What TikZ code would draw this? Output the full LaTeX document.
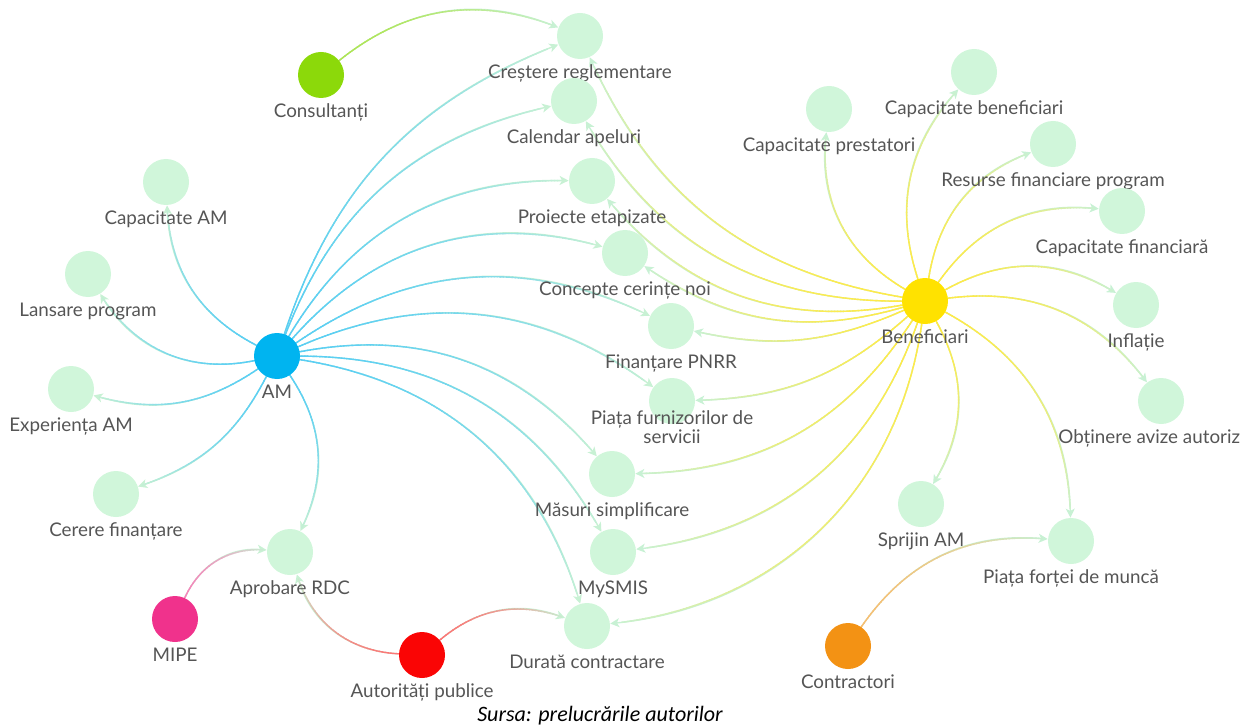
\documentclass[tikz,border=0pt]{standalone}
\usepackage{fontspec}
\setmainfont{Lato}
\newfontfamily\notefont{Carlito}
\usetikzlibrary{positioning, arrows.meta, decorations.markings, backgrounds}

\definecolor{topicfill}{RGB}{208,246,218}
\definecolor{linkend}{RGB}{200,241,212}
\definecolor{labelgray}{RGB}{85,85,85}
\definecolor{amblue}{RGB}{0,180,240}
\definecolor{benyellow}{RGB}{255,226,0}
\definecolor{consgreen}{RGB}{140,217,10}
\definecolor{mipepink}{RGB}{240,50,140}
\definecolor{autred}{RGB}{250,5,5}
\definecolor{ctrorange}{RGB}{243,146,20}
\colorlet{amline}{amblue!65!white}
\colorlet{benline}{benyellow!72!white}
\colorlet{consline}{consgreen!70!white}
\colorlet{mipeline}{mipepink!60!white}
\colorlet{autline}{autred!55!white}
\colorlet{ctrline}{ctrorange!60!white}

\tikzset{
every label/.style = {font = \fontsize{9.4}{9.6}\selectfont, text = labelgray,
   inner sep = 0pt, text height = 6.5pt, text depth = 2pt, align = center,
   yshift = -3pt},
topic/.style = {circle, fill = topicfill, minimum size = 23pt, inner sep = 0pt},
actor/.style = {topic, fill = #1},
link/.style = {draw = linkend, line width = .7pt,
   -{Stealth[length = 4.5pt, width = 4.5pt, inset = 1.2pt]},
   postaction = {decorate, decoration = {markings,
      mark = between positions 0 and .97 step 1.5pt with {
         \pgfmathsetmacro\linkmix{max(0, min(100, 100*(1 - (\pgfkeysvalueof{/pgf/decoration/mark info/distance from start}/\pgfdecoratedpathlength)^1.6)))}
         \draw[arrows = -, line width = .7pt, color = #1!\linkmix!linkend] (-1pt,0) -- (1pt,0);}}}}
}

\begin{document}
\begin{tikzpicture}[x = 0.5pt, y = -0.5pt]
\useasboundingbox (0,0) rectangle (1241,727);

%% Topics
\node [topic, label = below:Creștere reglementare] (crest) at (580,36) {};
\node [topic, label = below:Calendar apeluri] (cal) at (574,101) {};
\node [topic, label = below:Proiecte etapizate] (proj) at (592,181) {};
\node [topic, label = below:Concepte cerințe noi] (conc) at (625,253) {};
\node [topic, label = below:Finanțare PNRR] (pnrr) at (671,326) {};
\node [topic, label = {below:Piața furnizorilor de\\servicii}] (piaf) at (672,401) {};
\node [topic, label = below:Măsuri simplificare] (masuri) at (612,474) {};
\node [topic, label = below:MySMIS] (mysmis) at (613,552) {};
\node [topic, label = below:Durată contractare] (durata) at (587,626) {};
\node [topic, label = below:Capacitate AM] (capam) at (166,182) {};
\node [topic, label = below:Lansare program] (lans) at (88,274) {};
\node [topic, label = below:Experiența AM] (expam) at (71,389) {};
\node [topic, label = below:Cerere finanțare] (cerf) at (116,494) {};
\node [topic, label = below:Aprobare RDC] (aprdc) at (290,552) {};
\node [topic, label = below:Capacitate prestatori] (capp) at (829,109) {};
\node [topic, label = below:Capacitate beneficiari] (capb) at (974,72) {};
\node [topic, label = below:Resurse financiare program] (resf) at (1053,144) {};
\node [topic, label = below:Capacitate financiară] (capf) at (1122,211) {};
\node [topic, label = below:Inflație] (infl) at (1136,305) {};
\node [topic, label = {[anchor = north west, xshift = -51.5pt]below:Obținere avize autoriz}] (aviz) at (1161,401) {};
\node [topic, label = below:Sprijin AM] (sprijin) at (921,504) {};
\node [topic, label = below:Piața forței de muncă] (piam) at (1071,541) {};

%% Actors
\node [actor = amblue, label = below:AM] (am) at (277,356) {};
\node [actor = benyellow, label = below:Beneficiari] (ben) at (925,301) {};
\node [actor = consgreen, label = below:Consultanți] (cons) at (321,75) {};
\node [actor = mipepink, label = below:MIPE] (mipe) at (175,619) {};
\node [actor = autred, label = below:Autorități publice] (aut) at (422,655) {};
\node [actor = ctrorange, label = below:Contractori] (ctr) at (848,646) {};

%% Links
\begin{scope}[on background layer]
\foreach \t/\b in {capam/30, lans/35, expam/25, cerf/22, aprdc/30, crest/25, cal/28,
   proj/30, conc/32, pnrr/30, piaf/30, masuri/30, mysmis/30, durata/32}
   \draw [link = amline] (am) to [bend left = \b] (\t);
\foreach \t/\b in {crest/28, cal/30, proj/30, conc/25, pnrr/18, piaf/20, masuri/28,
   mysmis/32, durata/38, capp/33, capb/30, resf/30, capf/30, infl/30, aviz/30,
   sprijin/30, piam/30}
   \draw [link = benline] (ben) to [bend left = \b] (\t);
\draw [link = consline] (cons) to [bend left = 30] (crest);
\draw [link = mipeline] (mipe) to [bend left = 35] (aprdc);
\draw [link = autline] (aut) to [bend left = 35] (aprdc);
\draw [link = autline] (aut) to [bend left = 30] (durata);
\draw [link = ctrline] (ctr) to [bend left = 30] (piam);
\end{scope}

%% Source
\node [font = \notefont\itshape\fontsize{11}{12}\selectfont, anchor = base] (note)
   at (600,721) {Sursa: prelucrările autorilor};

\end{tikzpicture}
\end{document}
